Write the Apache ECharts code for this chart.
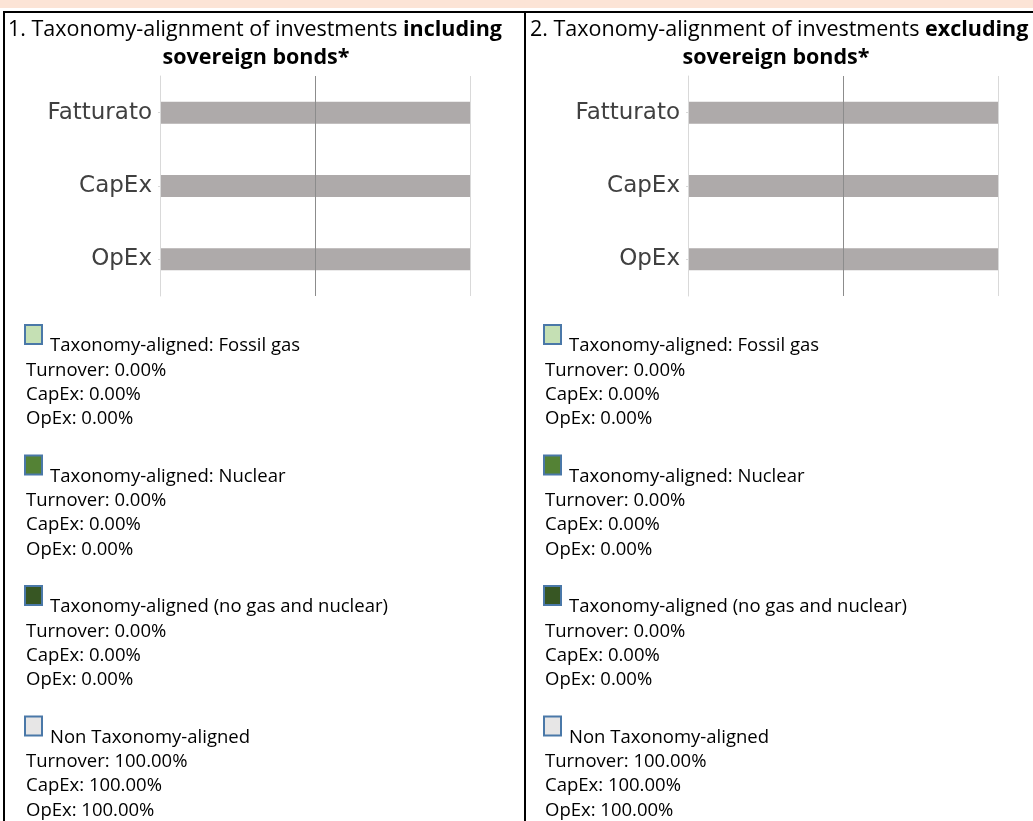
<!DOCTYPE html>
<html>
<head>
<meta charset="utf-8">
<script src="https://cdn.jsdelivr.net/npm/echarts@6/dist/echarts.min.js"></script>
<style>
html,body{margin:0;padding:0;background:#fff;}
#c{width:1033px;height:821px;}
</style>
</head>
<body>
<div id="c"></div>
<script>
// ---- data ----
var categories = ['Fatturato', 'CapEx', 'OpEx'];
var rowLabels = ['Turnover', 'CapEx', 'OpEx'];
var seriesNames = ['Taxonomy-aligned: Fossil gas', 'Taxonomy-aligned: Nuclear', 'Taxonomy-aligned (no gas and nuclear)', 'Non Taxonomy-aligned'];
var seriesColors = ['#c5e0b4', '#548235', '#375623', '#e7e6e6'];
var barColors = ['#c5e0b4', '#548235', '#375623', '#aeaaaa'];
// panel 1: including sovereign bonds
var p1FossilGas = [0, 0, 0];
var p1Nuclear = [0, 0, 0];
var p1Aligned = [0, 0, 0];
var p1NonAligned = [100, 100, 100];
// panel 2: excluding sovereign bonds
var p2FossilGas = [0, 0, 0];
var p2Nuclear = [0, 0, 0];
var p2Aligned = [0, 0, 0];
var p2NonAligned = [100, 100, 100];
var titleTexts = [
  ['1. Taxonomy-alignment of investments ', 'including', 'sovereign bonds*'],
  ['2. Taxonomy-alignment of investments ', 'excluding', 'sovereign bonds*']
];

var panels = [
  {x0: 8, lx: 24, gridLeft: 160, center: 256, data: [p1FossilGas, p1Nuclear, p1Aligned, p1NonAligned]},
  {x0: 530, lx: 543, gridLeft: 688, center: 776, data: [p2FossilGas, p2Nuclear, p2Aligned, p2NonAligned]}
];

var chart = echarts.init(document.getElementById('c'), null, {renderer: 'canvas'});

var grids = [], xAxes = [], yAxes = [], series = [], graphics = [];

// background band and borders
graphics.push({type: 'rect', shape: {x: 0, y: 0, width: 1033, height: 8}, style: {fill: '#fce4d6'}, silent: true});
graphics.push({type: 'rect', shape: {x: 3, y: 11, width: 1030, height: 2}, style: {fill: '#000'}, silent: true});
graphics.push({type: 'rect', shape: {x: 3, y: 11, width: 2, height: 810}, style: {fill: '#000'}, silent: true});
graphics.push({type: 'rect', shape: {x: 524, y: 11, width: 2, height: 810}, style: {fill: '#000'}, silent: true});

var textFont = '"Open Sans", "Noto Sans", sans-serif';

panels.forEach(function (p, pi) {
  grids.push({left: p.gridLeft, width: 310, top: 76, height: 220, containLabel: false});
  xAxes.push({
    type: 'value', gridIndex: pi, min: 0, max: 100, interval: 50, z: 3,
    axisLabel: {show: false}, axisLine: {show: false}, axisTick: {show: false},
    splitLine: {show: true, lineStyle: {color: ['#d9d9d9', '#8c8c8c', '#d9d9d9'], width: 1}}
  });
  yAxes.push({
    type: 'category', gridIndex: pi, data: categories, inverse: true, offset: 3,
    axisLine: {show: true, lineStyle: {color: '#d9d9d9'}},
    axisTick: {show: true, length: 2, alignWithLabel: true, lineStyle: {color: '#d9d9d9'}},
    axisLabel: {margin: 5, fontFamily: 'DejaVu Sans', fontSize: 23, color: '#404040'}
  });
  p.data.forEach(function (vals, si) {
    series.push({
      name: seriesNames[si], type: 'bar', stack: 'p' + pi, xAxisIndex: pi, yAxisIndex: pi,
      data: vals, barWidth: 22, silent: true,
      itemStyle: {color: barColors[si], borderWidth: 0}
    });
  });

  // titles
  graphics.push({
    type: 'text', x: p.x0, y: 30, silent: true,
    style: {
      text: '{r|' + titleTexts[pi][0] + '}{b|' + titleTexts[pi][1] + '}',
      verticalAlign: 'middle',
      rich: {
        r: {fontFamily: textFont, fontSize: 21.5, fill: '#000'},
        b: {fontFamily: textFont, fontSize: 21.5, fontWeight: 'bold', fill: '#000'}
      }
    }
  });
  graphics.push({
    type: 'text', silent: true, x: p.center, y: 58,
    style: {text: titleTexts[pi][2], fontFamily: textFont, fontSize: 21.5, fontWeight: 'bold', fill: '#000', align: 'center', verticalAlign: 'middle'}
  });

  // legend blocks
  seriesNames.forEach(function (nm, si) {
    var yc = 345 + si * 130.5;
    graphics.push({
      type: 'rect', silent: true, shape: {x: p.lx + 1, y: yc - 20, width: 17, height: 19},
      style: {fill: seriesColors[si], stroke: '#4a78a8', lineWidth: 2}
    });
    graphics.push({
      type: 'text', silent: true, x: p.lx + 26, y: yc + 1,
      style: {text: nm, fontFamily: textFont, fontSize: 18.5, fill: '#000', verticalAlign: 'middle'}
    });
    rowLabels.forEach(function (rl, ri) {
      graphics.push({
        type: 'text', silent: true, x: p.lx + 2, y: yc + 1 + 24.3 * (ri + 1),
        style: {text: rl + ': ' + p.data[si][ri].toFixed(2) + '%', fontFamily: textFont, fontSize: 18.5, fill: '#000', verticalAlign: 'middle'}
      });
    });
  });
});

chart.setOption({
  animation: false,
  grid: grids,
  xAxis: xAxes,
  yAxis: yAxes,
  series: series,
  graphic: graphics
});
</script>
</body>
</html>
